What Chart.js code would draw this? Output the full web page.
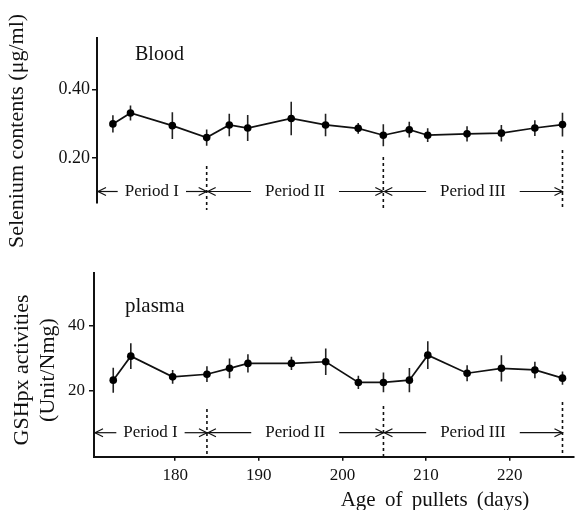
<!DOCTYPE html>
<html><head><meta charset="utf-8">
<script src="https://cdn.jsdelivr.net/npm/chart.js@4.4.1/dist/chart.umd.min.js"></script>
<style>
html,body{margin:0;padding:0;background:#fff;overflow:hidden}
#wrap{position:relative;width:578px;height:510px;background:#fff}
.c{position:absolute;left:0;width:578px}
</style></head><body>
<div id="wrap">
<div class="c" style="top:0;height:250px"><canvas id="topChart"></canvas></div>
<div class="c" style="top:250px;height:260px"><canvas id="botChart"></canvas></div>
</div>
<script>
// ---- data ----
const ages = [172.6,174.7,179.7,183.8,186.5,188.7,193.9,198.0,201.9,204.9,208.0,210.2,214.9,219.0,223.0,226.3];
const bloodSe = [0.300,0.332,0.295,0.260,0.297,0.288,0.316,0.297,0.287,0.267,0.283,0.267,0.271,0.273,0.288,0.298];
const bloodSeErr = [0.025,0.022,0.039,0.024,0.033,0.038,0.049,0.033,0.016,0.032,0.023,0.020,0.022,0.024,0.023,0.035];
const plasmaGSHpx = [23.3,30.6,24.3,25.1,26.9,28.4,28.4,28.9,22.6,22.6,23.3,30.9,25.4,26.9,26.4,23.9];
const plasmaGSHpxErr = [3.8,3.9,2.1,2.4,3.0,2.8,2.0,4.0,2.0,3.0,3.7,4.2,2.4,4.0,2.5,2.0];
const xTicks = [180,190,200,210,220];
const seTicks = [0.20,0.40];
const seTickLabels = ['0.20','0.40'];
const gshTicks = [20,40];
const gshTickLabels = ['20','40'];
const periodLabels = ['Period I','Period II','Period III'];
const periodEnds = [183.8,204.9,226.3];
const xAxisTitle = 'Age of pullets (days)';

const SERIF = '"Liberation Serif","DejaVu Serif",serif';
Chart.defaults.font.family = SERIF;
Chart.defaults.color = '#111';

function errData(vals, errs){
  const d = [];
  ages.forEach((a,i)=>{ d.push({x:a,y:vals[i]-errs[i]},{x:a,y:vals[i]+errs[i]},{x:a,y:null}); });
  return d;
}
function lineData(vals){ return ages.map((a,i)=>({x:a,y:vals[i]})); }

function annotPlugin(o){
  return {
    id:'annot',
    afterDatasetsDraw(chart){
      const {ctx, chartArea:ca, scales:{x}} = chart;
      ctx.save();
      ctx.fillStyle = '#111'; ctx.strokeStyle = '#111';
      // panel label
      ctx.font = o.labelFont + ' ' + SERIF;
      ctx.textAlign = 'left'; ctx.textBaseline = 'alphabetic';
      ctx.fillText(o.label, o.labelX, o.labelY);
      // y-axis title (rotated)
      ctx.font = '22px ' + SERIF;
      ctx.textAlign = 'center'; ctx.textBaseline = 'middle';
      o.yTitle.forEach((t,i)=>{
        ctx.save();
        ctx.translate(o.yTitleX[i], o.yTitleY);
        ctx.rotate(-Math.PI/2);
        ctx.fillText(t, 0, 0);
        ctx.restore();
      });
      // x-axis title
      if (o.xTitle) {
        ctx.save();
        ctx.font = '21px ' + SERIF;
        try { ctx.wordSpacing = '4px'; } catch(e) {}
        ctx.textAlign = 'center'; ctx.textBaseline = 'alphabetic';
        ctx.fillText(o.xTitle, o.xTitleX, o.xTitleY);
        ctx.restore();
      }
      // period arrows
      const y = o.rowY;
      ctx.font = '17px ' + SERIF;
      ctx.textAlign = 'center'; ctx.textBaseline = 'middle';
      ctx.lineWidth = 1.2;
      let left = ca.left;
      const head = (px, dir) => {
        ctx.beginPath();
        ctx.moveTo(px - dir*8, y - 4); ctx.lineTo(px, y); ctx.lineTo(px - dir*8, y + 4);
        ctx.stroke();
      };
      periodEnds.forEach((b,i)=>{
        const right = x.getPixelForValue(b);
        const cx = (left + right) / 2;
        const w = ctx.measureText(periodLabels[i]).width;
        ctx.fillText(periodLabels[i], cx, y);
        const gap = i === 0 ? 7 : 14;
        ctx.beginPath(); ctx.moveTo(left, y); ctx.lineTo(cx - w/2 - gap, y); ctx.stroke();
        head(left + 1, -1);
        ctx.beginPath(); ctx.moveTo(cx + w/2 + gap, y); ctx.lineTo(right, y); ctx.stroke();
        head(right, 1);
        // dotted boundary line
        ctx.save();
        ctx.setLineDash([3,3]); ctx.lineWidth = 1.6;
        ctx.beginPath(); ctx.moveTo(right, o.dashTop[i]); ctx.lineTo(right, o.dashBottom); ctx.stroke();
        ctx.restore();
        left = right;
      });
      ctx.restore();
    }
  };
}

function makeDatasets(vals, errs){
  return [
    {type:'scatter', data: errData(vals, errs), showLine:true, spanGaps:false,
     borderColor:'#222', borderWidth:1.6, pointRadius:0, order:2},
    {type:'scatter', data: lineData(vals), showLine:true,
     borderColor:'#111', borderWidth:1.7, pointRadius:3.8, pointHoverRadius:3.8,
     pointBackgroundColor:'#000', pointBorderColor:'#000', pointBorderWidth:0, order:1}
  ];
}

const common = {
  responsive:true, maintainAspectRatio:false, animation:false, devicePixelRatio:1,
  plugins:{legend:{display:false}, tooltip:{enabled:false}},
  events:[]
};

// ---- top panel: Blood selenium ----
new Chart(document.getElementById('topChart'), {
  type:'scatter',
  data:{datasets: makeDatasets(bloodSe, bloodSeErr)},
  options:{
    ...common,
    layout:{padding:{left:0,right:3,top:38,bottom:47}},
    scales:{
      x:{type:'linear', display:false, min:170.7, max:227.7},
      y:{type:'linear', min:0.069, max:0.551,
         afterFit(s){ s.width = 97; },
         afterBuildTicks(s){ s.ticks = seTicks.map(v=>({value:v})); },
         ticks:{font:{size:18, family:SERIF}, color:'#111', padding:2,
                callback:(v)=>seTickLabels[seTicks.indexOf(v)]},
         grid:{drawOnChartArea:false, drawTicks:true, tickLength:5, color:'#111', lineWidth:1.5},
         border:{display:true, color:'#111', width:2}}
    }
  },
  plugins:[annotPlugin({label:'Blood', labelFont:'20px', labelX:135, labelY:60,
    yTitle:['Selenium contents (μg/ml)'], yTitleX:[17], yTitleY:131,
    rowY:191.5, dashTop:[166,157,150], dashBottom:210})]
});

// ---- bottom panel: plasma GSHpx ----
new Chart(document.getElementById('botChart'), {
  type:'scatter',
  data:{datasets: makeDatasets(plasmaGSHpx, plasmaGSHpxErr)},
  options:{
    ...common,
    layout:{padding:{left:0,right:3,top:22.7,bottom:0}},
    scales:{
      x:{type:'linear', min:170.3, max:227.7,
         afterFit(s){ s.height = 53.3; },
         afterBuildTicks(s){ s.ticks = xTicks.map(v=>({value:v})); },
         ticks:{font:{size:17, family:SERIF}, color:'#111', padding:5, maxRotation:0,
                callback:(v)=>String(v)},
         grid:{drawOnChartArea:false, drawTicks:true, tickLength:4, color:'#111', lineWidth:1.5},
         border:{display:true, color:'#111', width:2}},
      y:{type:'linear', min:0, max:56,
         afterFit(s){ s.width = 94; },
         afterBuildTicks(s){ s.ticks = gshTicks.map(v=>({value:v})); },
         ticks:{font:{size:17, family:SERIF}, color:'#111', padding:4,
                callback:(v)=>gshTickLabels[gshTicks.indexOf(v)]},
         grid:{drawOnChartArea:false, drawTicks:true, tickLength:5, color:'#111', lineWidth:1.5},
         border:{display:true, color:'#111', width:2}}
    }
  },
  plugins:[annotPlugin({label:'plasma', labelFont:'21px', labelX:125, labelY:61.7,
    yTitle:['GSHpx activities','(Unit/Nmg)'], yTitleX:[22,48], yTitleY:120,
    xTitle:xAxisTitle, xTitleX:435, xTitleY:256,
    rowY:182.7, dashTop:[159,156,152], dashBottom:206.7})]
});
</script>
</body></html>
